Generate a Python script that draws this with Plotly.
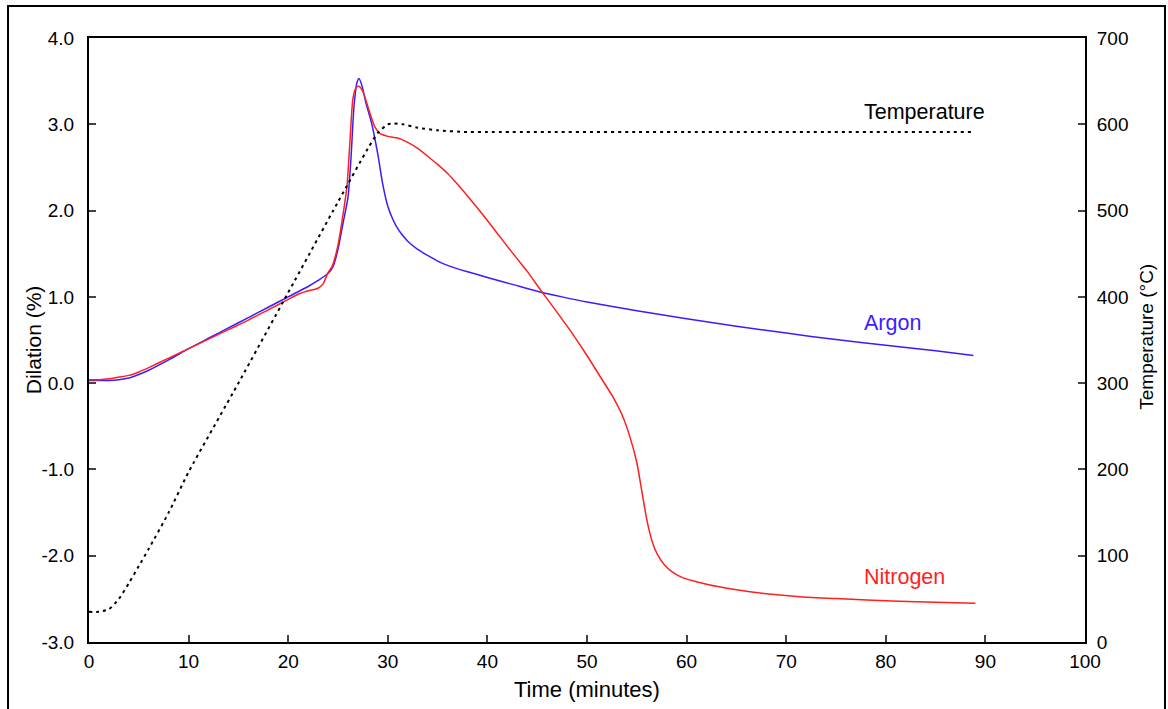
import plotly.graph_objects as go

# ---- data ----
argon_t = [0, 1, 2, 3, 4, 5, 6, 8, 10, 12, 14, 16, 18, 20, 22, 23, 24, 24.5, 25, 25.5, 26,
           26.3, 26.6, 26.9, 27.1, 27.4, 27.8, 28.4, 29.0, 29.5, 30.0, 30.5, 31.0, 31.5, 32,
           33, 34, 35, 36, 38, 40, 42.5, 45, 47.5, 50, 55, 60, 65, 70, 75, 80, 85, 88.8]
argon_d = [0.03, 0.03, 0.03, 0.04, 0.06, 0.10, 0.15, 0.27, 0.40, 0.52, 0.64, 0.76, 0.88, 1.00,
           1.12, 1.19, 1.27, 1.35, 1.55, 1.85, 2.15, 2.6, 3.2, 3.48, 3.53, 3.45, 3.25, 3.0,
           2.65, 2.3, 2.05, 1.9, 1.79, 1.71, 1.645, 1.55, 1.48, 1.415, 1.365, 1.29, 1.225,
           1.145, 1.065, 1.0, 0.94, 0.84, 0.745, 0.66, 0.58, 0.505, 0.44, 0.375, 0.32]

nitrogen_t = [0, 1, 2, 3, 4, 5, 6, 8, 10, 12, 14, 16, 18, 20, 21, 22, 23, 23.5, 24, 24.4, 25,
              25.5, 25.9, 26.2, 26.5, 26.8, 27.1, 27.5, 28.2, 28.7, 29.2, 30, 31, 32, 33, 34,
              35, 36, 37, 38, 39, 40, 41, 42, 43, 44, 45.4, 47, 48.5, 50, 51.3, 52.6, 53.6,
              54.3, 55.0, 55.5, 56.0, 56.5, 57.0, 57.8, 58.7, 59.7, 61.3, 63, 65, 68, 71.4,
              75, 78.1, 83, 89.0]
nitrogen_d = [0.04, 0.04, 0.05, 0.07, 0.09, 0.13, 0.18, 0.29, 0.40, 0.51, 0.62, 0.73, 0.85,
              0.97, 1.03, 1.07, 1.10, 1.15, 1.28, 1.35, 1.60, 1.95, 2.28, 2.8, 3.3, 3.42, 3.44,
              3.38, 3.13, 2.97, 2.895, 2.86, 2.84, 2.79, 2.72, 2.63, 2.535, 2.43, 2.305, 2.17,
              2.03, 1.885, 1.735, 1.585, 1.44, 1.295, 1.07, 0.82, 0.58, 0.32, 0.08, -0.16,
              -0.39, -0.62, -0.92, -1.25, -1.58, -1.82, -1.97, -2.11, -2.20, -2.26, -2.31,
              -2.355, -2.395, -2.44, -2.475, -2.497, -2.513, -2.533, -2.552]

temp_t = [0, 1, 2, 3, 4, 5, 6, 8, 10, 15, 20, 25, 28, 29, 30, 30.6, 31.5, 33, 35, 38, 40,
          60, 88.6]
temp_c = [35, 35, 38, 50, 68, 88, 108, 150, 197, 300, 405, 510, 572, 590, 600, 601, 600,
          596, 593, 591, 591, 591, 591]

x_ticks = [0, 10, 20, 30, 40, 50, 60, 70, 80, 90, 100]
y_ticks = [-3, -2, -1, 0, 1, 2, 3, 4]
y_ticklabels = ["-3.0", "-2.0", "-1.0", "0.0", "1.0", "2.0", "3.0", "4.0"]
y2_ticks = [0, 100, 200, 300, 400, 500, 600, 700]

BLUE = "#3a1cff"
RED = "#ff1f1f"
FONT = "Liberation Sans, Arial, Helvetica, sans-serif"

fig = go.Figure()
fig.add_trace(go.Scatter(x=argon_t, y=argon_d, mode="lines", name="Argon",
                         line=dict(color=BLUE, width=1.5, shape="spline", smoothing=0.6)))
fig.add_trace(go.Scatter(x=nitrogen_t, y=nitrogen_d, mode="lines", name="Nitrogen",
                         line=dict(color=RED, width=1.5, shape="spline", smoothing=0.6)))
fig.add_trace(go.Scatter(x=temp_t, y=temp_c, mode="lines", name="Temperature", yaxis="y2",
                         line=dict(color="black", width=2, dash="3px,4px",
                                   shape="spline", smoothing=0.6)))

fig.update_layout(
    width=1168, height=709,
    margin=dict(l=89, r=83, t=38, b=67),
    paper_bgcolor="white", plot_bgcolor="white",
    showlegend=False,
    font=dict(family=FONT, color="black", size=19),
    xaxis=dict(range=[0, 100], tickvals=x_ticks, ticks="inside", ticklen=7, tickwidth=2,
               showline=True, linewidth=2, linecolor="black", mirror=True,
               showgrid=False, zeroline=False, ticklabelstandoff=1,
               tickfont=dict(size=19)),
    yaxis=dict(range=[-3, 4], tickvals=y_ticks, ticktext=y_ticklabels, ticks="inside",
               ticklen=7, tickwidth=2, showline=True, linewidth=2, linecolor="black",
               showgrid=False, zeroline=False, ticklabelstandoff=9,
               tickfont=dict(size=19)),
    yaxis2=dict(range=[0, 700], tickvals=y2_ticks, overlaying="y", side="right",
                ticks="inside", ticklen=7, tickwidth=2, showline=True, linewidth=2,
                linecolor="black", showgrid=False, zeroline=False, ticklabelstandoff=6,
                tickfont=dict(size=19)),
)

# axis titles
fig.add_annotation(text="Time (minutes)", xref="paper", yref="paper", x=0.5, y=-0.078,
                   showarrow=False, font=dict(size=22), xanchor="center", yanchor="middle")
fig.add_annotation(text="Dilation (%)", xref="paper", yref="paper", x=-0.056, y=0.5,
                   showarrow=False, textangle=-90, font=dict(size=21),
                   xanchor="center", yanchor="middle")
fig.add_annotation(text="Temperature (°C)", xref="paper", yref="paper", x=1.062, y=0.505,
                   showarrow=False, textangle=-90, font=dict(size=19),
                   xanchor="center", yanchor="middle")

# series labels
fig.add_annotation(text="Temperature", x=77.6, y=614, xref="x", yref="y2", showarrow=False,
                   xanchor="left", yanchor="middle", font=dict(size=21.5, color="black"))
fig.add_annotation(text="Argon", x=77.6, y=0.70, xref="x", yref="y", showarrow=False,
                   xanchor="left", yanchor="middle", font=dict(size=21.5, color=BLUE))
fig.add_annotation(text="Nitrogen", x=77.6, y=-2.25, xref="x", yref="y", showarrow=False,
                   xanchor="left", yanchor="middle", font=dict(size=21.5, color=RED))

# outer frame
fig.add_shape(type="rect", xref="paper", yref="paper", x0=-0.0813, x1=1.0803,
              y0=-0.2, y1=1.053, line=dict(color="black", width=2), layer="below")

fig.write_html("out.html", config={"displayModeBar": False},
               post_script="document.body.style.margin='0px';document.body.style.overflow='hidden';")
